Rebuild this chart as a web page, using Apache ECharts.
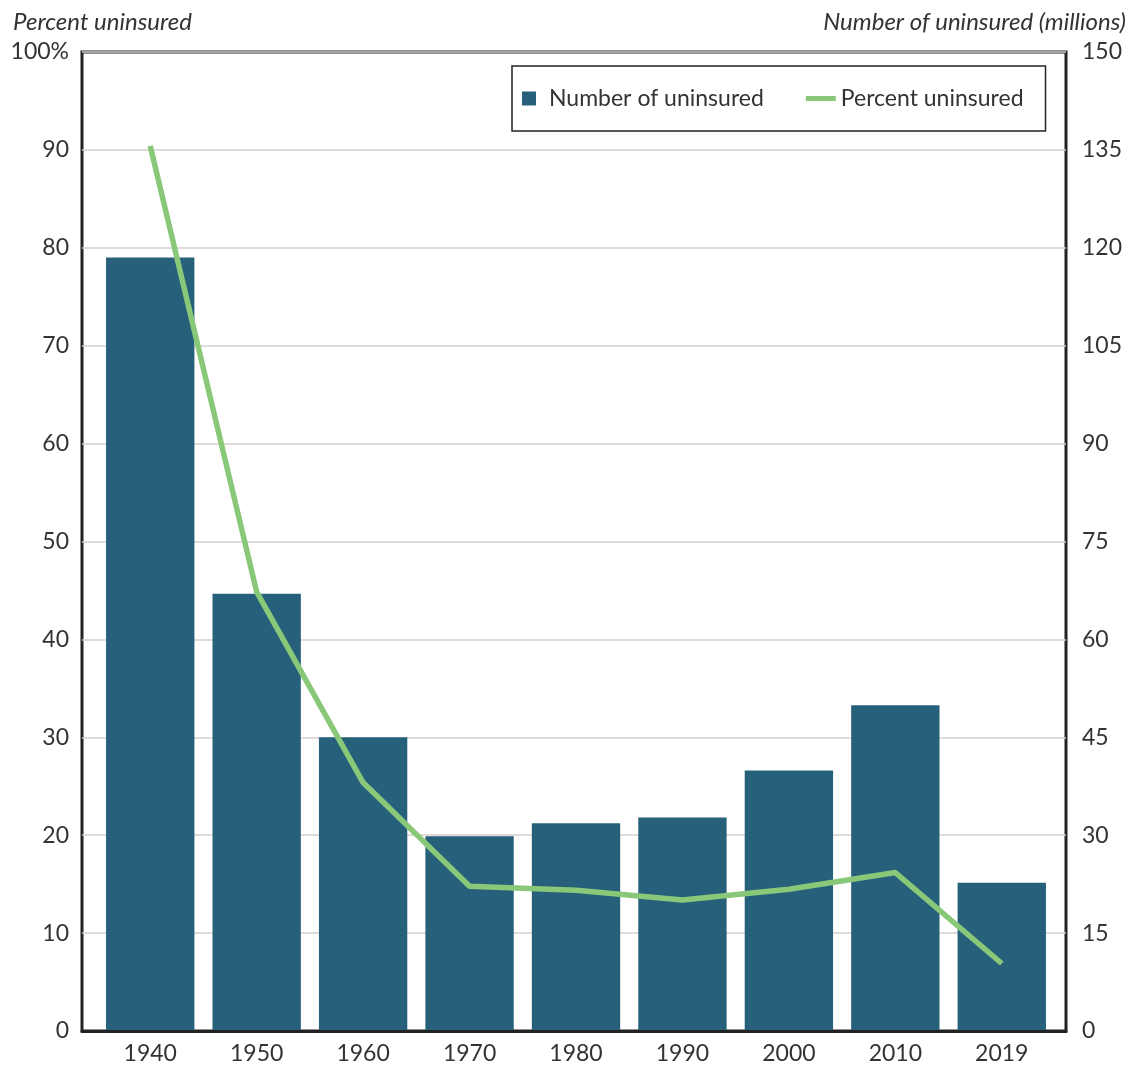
<!DOCTYPE html>
<html>
<head>
<meta charset="utf-8">
<script src="https://cdn.jsdelivr.net/npm/echarts@6/dist/echarts.min.js"></script>
<style>
  html, body { margin: 0; padding: 0; background: #fff; }
  #chart { width: 1136px; height: 1065px; }
</style>
</head>
<body>
<div id="chart"></div>
<script>
// data
var years = ['1940', '1950', '1960', '1970', '1980', '1990', '2000', '2010', '2019']
var numberUninsured = [118.5, 66.9, 44.9, 29.7, 31.7, 32.6, 39.8, 49.8, 22.6]
var percentUninsured = [90.4, 44.8, 25.3, 14.7, 14.3, 13.3, 14.4, 16.1, 6.8]

var font = 'Lato'
var textColor = '#333'

var chart = echarts.init(document.getElementById('chart'))
chart.setOption({
  animation: false,
  textStyle: { fontFamily: font },
  title: [
    {
      text: 'Percent uninsured',
      left: 8,
      top: 5,
      textStyle: { fontFamily: font, fontSize: 24, fontStyle: 'italic', fontWeight: 'normal', color: textColor }
    },
    {
      text: 'Number of uninsured (millions)',
      right: 5,
      top: 5,
      textStyle: { fontFamily: font, fontSize: 24, fontStyle: 'italic', fontWeight: 'normal', color: textColor }
    }
  ],
  legend: {
    left: 512,
    top: 66,
    padding: [21, 22, 21, 10],
    itemGap: 42,
    itemWidth: 30,
    itemHeight: 14,
    itemTextGap: 6,
    borderColor: '#222',
    borderWidth: 1.5,
    textStyle: { fontFamily: font, fontSize: 23, color: textColor },
    data: [
      { name: 'Number of uninsured', icon: 'path://M0,0h10v10h-10z' },
      { name: 'Percent uninsured', icon: 'path://M0,0h30v5h-30z' }
    ]
  },
  // grid 0: frame, gridlines and tick labels; grid 1: the bars and line, inset a little
  grid: [
    { left: 82, right: 70, top: 52, bottom: 34, show: true, borderColor: '#222', borderWidth: 3 },
    { left: 97, right: 81, top: 52, bottom: 34 }
  ],
  xAxis: [
    {
      type: 'category',
      gridIndex: 0,
      data: years,
      z: 10,
      axisLine: { show: true, lineStyle: { color: '#222', width: 3 } },
      axisTick: { show: false },
      axisLabel: { show: false }
    },
    {
      type: 'category',
      gridIndex: 1,
      data: years,
      axisLine: { show: false },
      axisTick: { show: false },
      axisLabel: { margin: 12, fontSize: 23, color: textColor, fontFamily: font }
    }
  ],
  yAxis: [
    {
      type: 'value',
      gridIndex: 0,
      min: 0,
      max: 100,
      interval: 10,
      axisLine: { show: false },
      axisTick: { show: false },
      axisLabel: {
        margin: 13,
        fontSize: 23,
        color: textColor,
        fontFamily: font,
        formatter: function (v) { return v === 100 ? '100%' : v }
      },
      splitLine: { lineStyle: { color: '#d3cfcb', width: 1.5 } }
    },
    {
      type: 'value',
      gridIndex: 0,
      min: 0,
      max: 150,
      interval: 15,
      position: 'right',
      axisLine: { show: false },
      axisTick: { show: false },
      axisLabel: { margin: 16, fontSize: 23, color: textColor, fontFamily: font },
      splitLine: { show: false }
    },
    {
      type: 'value',
      gridIndex: 1,
      min: 0,
      max: 100,
      interval: 10,
      show: false
    },
    {
      type: 'value',
      gridIndex: 1,
      min: 0,
      max: 150,
      interval: 15,
      show: false
    }
  ],
  series: [
    {
      name: 'Number of uninsured',
      type: 'bar',
      xAxisIndex: 1,
      yAxisIndex: 3,
      barWidth: '83%',
      itemStyle: { color: '#27607b' },
      data: numberUninsured,
      z: 2
    },
    {
      name: 'Percent uninsured',
      type: 'line',
      xAxisIndex: 1,
      yAxisIndex: 2,
      symbol: 'none',
      lineStyle: { color: '#88c878', width: 5.5 },
      itemStyle: { color: '#88c878' },
      data: percentUninsured,
      z: 3
    }
  ]
})
</script>
</body>
</html>
